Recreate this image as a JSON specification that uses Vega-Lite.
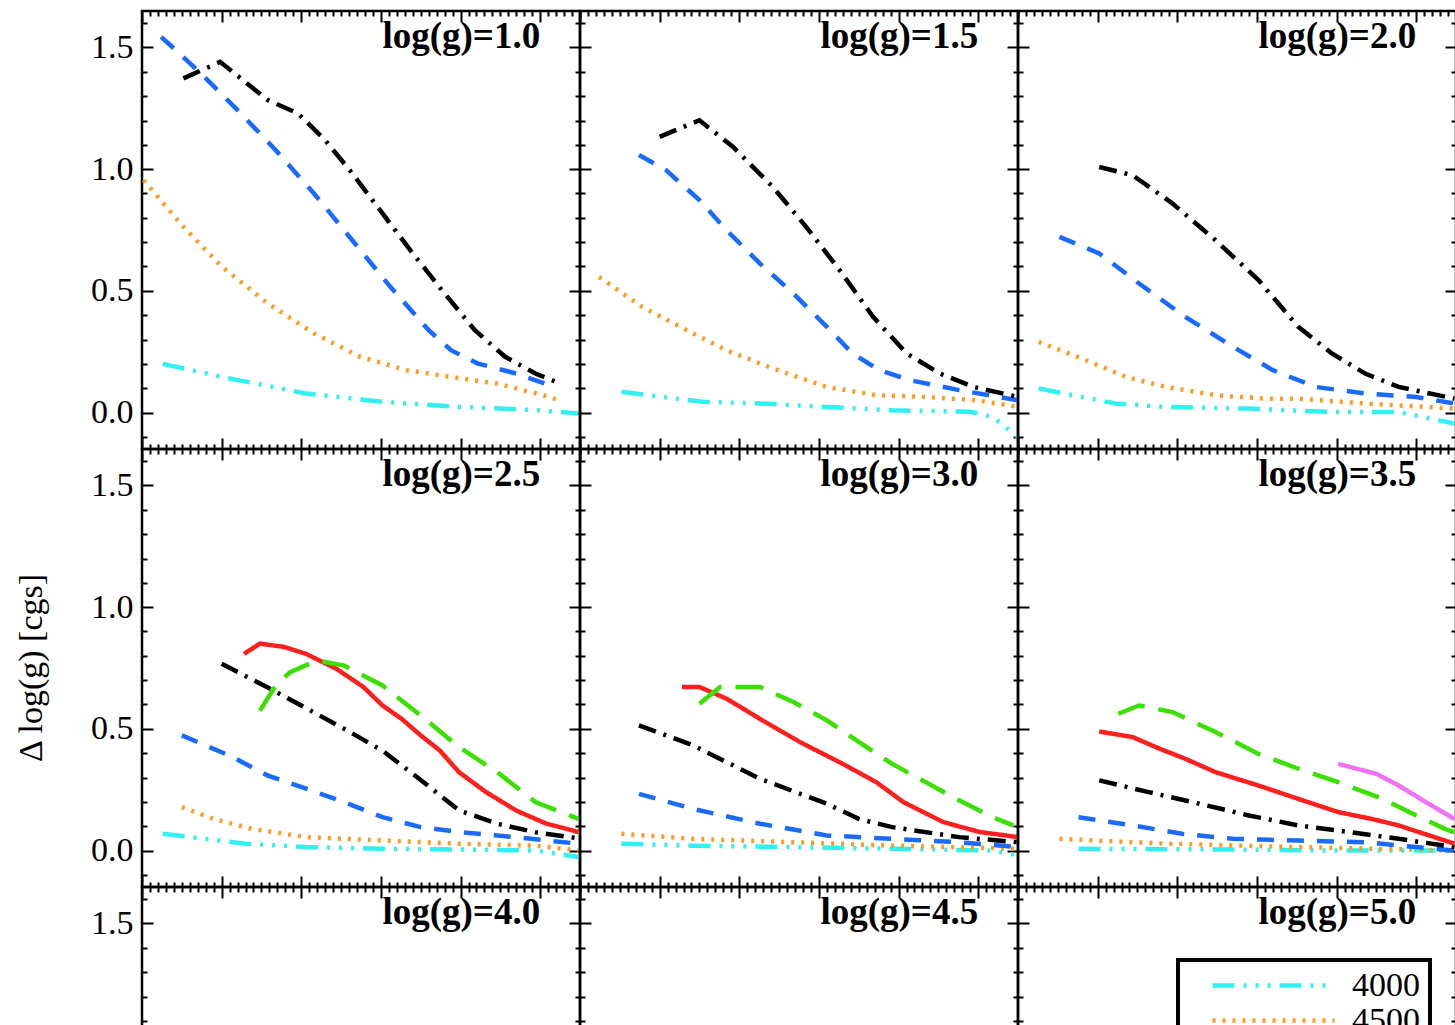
{
  "$schema": "https://vega.github.io/schema/vega-lite/v6.json",
  "background": "white",
  "padding": {"left": 15, "top": 4, "right": 0, "bottom": 0},
  "title": {"text": "Δ log(g) [cgs]", "orient": "left", "anchor": "middle", "font": "Liberation Serif", "fontSize": 34, "fontWeight": "normal", "color": "black", "offset": 40},
  "config": {
    "view": {"stroke": "black", "strokeWidth": 2.5},
    "axis": {"domain": false, "grid": false, "tickColor": "black", "tickWidth": 2, "labelFont": "Liberation Serif", "labelFontSize": 34, "labelColor": "black"},
    "legend": {"symbolType": "stroke", "symbolSize": 14884, "symbolStrokeWidth": 4.5, "labelFont": "Liberation Serif", "labelFontSize": 34, "labelColor": "black", "clipHeight": 31, "rowPadding": 0, "padding": 10, "symbolOffset": 22, "labelOffset": 15, "strokeColor": "black", "strokeWidth": 4, "fillColor": "white"},
    "line": {"strokeWidth": 4.5, "strokeCap": "butt", "clip": true},
    "text": {"align": "right", "baseline": "alphabetic", "font": "Liberation Serif", "fontSize": 37, "fontWeight": "bold", "color": "black"}
  },
  "datasets": {
    "panels": [
      {"g": 1.0, "label": "log(g)=1.0"}, {"g": 1.5, "label": "log(g)=1.5"}, {"g": 2.0, "label": "log(g)=2.0"},
      {"g": 2.5, "label": "log(g)=2.5"}, {"g": 3.0, "label": "log(g)=3.0"}, {"g": 3.5, "label": "log(g)=3.5"},
      {"g": 4.0, "label": "log(g)=4.0"}, {"g": 4.5, "label": "log(g)=4.5"}, {"g": 5.0, "label": "log(g)=5.0"}
    ],
    "curves": [
      {"g":1.0,"t":"4000","x":-2.37,"y":0.20},{"g":1.0,"t":"4000","x":-1.95,"y":0.14},{"g":1.0,"t":"4000","x":-1.47,"y":0.078},{"g":1.0,"t":"4000","x":-0.99,"y":0.044},{"g":1.0,"t":"4000","x":-0.51,"y":0.023},{"g":1.0,"t":"4000","x":-0.03,"y":0.01},{"g":1.0,"t":"4000","x":0.24,"y":-0.004},
      {"g":1.0,"t":"4500","x":-2.49,"y":0.955},{"g":1.0,"t":"4500","x":-2.24,"y":0.763},{"g":1.0,"t":"4500","x":-2.0,"y":0.60},{"g":1.0,"t":"4500","x":-1.71,"y":0.448},{"g":1.0,"t":"4500","x":-1.42,"y":0.325},{"g":1.0,"t":"4500","x":-1.13,"y":0.229},{"g":1.0,"t":"4500","x":-0.84,"y":0.174},{"g":1.0,"t":"4500","x":-0.56,"y":0.146},{"g":1.0,"t":"4500","x":-0.27,"y":0.119},{"g":1.0,"t":"4500","x":0.02,"y":0.071},{"g":1.0,"t":"4500","x":0.12,"y":0.05},
      {"g":1.0,"t":"5000","x":-2.38,"y":1.544},{"g":1.0,"t":"5000","x":-2.14,"y":1.40},{"g":1.0,"t":"5000","x":-1.90,"y":1.243},{"g":1.0,"t":"5000","x":-1.66,"y":1.078},{"g":1.0,"t":"5000","x":-1.42,"y":0.90},{"g":1.0,"t":"5000","x":-1.18,"y":0.708},{"g":1.0,"t":"5000","x":-0.94,"y":0.516},{"g":1.0,"t":"5000","x":-0.70,"y":0.338},{"g":1.0,"t":"5000","x":-0.56,"y":0.256},{"g":1.0,"t":"5000","x":-0.39,"y":0.201},{"g":1.0,"t":"5000","x":-0.15,"y":0.16},{"g":1.0,"t":"5000","x":0.09,"y":0.105},
      {"g":1.0,"t":"5500","x":-2.24,"y":1.373},{"g":1.0,"t":"5500","x":-2.01,"y":1.441},{"g":1.0,"t":"5500","x":-1.71,"y":1.284},{"g":1.0,"t":"5500","x":-1.52,"y":1.229},{"g":1.0,"t":"5500","x":-1.35,"y":1.119},{"g":1.0,"t":"5500","x":-1.18,"y":0.983},{"g":1.0,"t":"5500","x":-0.99,"y":0.818},{"g":1.0,"t":"5500","x":-0.80,"y":0.654},{"g":1.0,"t":"5500","x":-0.60,"y":0.489},{"g":1.0,"t":"5500","x":-0.41,"y":0.338},{"g":1.0,"t":"5500","x":-0.22,"y":0.229},{"g":1.0,"t":"5500","x":-0.03,"y":0.16},{"g":1.0,"t":"5500","x":0.10,"y":0.126},

      {"g":1.5,"t":"4000","x":-2.24,"y":0.085},{"g":1.5,"t":"4000","x":-1.73,"y":0.044},{"g":1.5,"t":"4000","x":-1.37,"y":0.037},{"g":1.5,"t":"4000","x":-0.95,"y":0.023},{"g":1.5,"t":"4000","x":-0.54,"y":0.009},{"g":1.5,"t":"4000","x":-0.05,"y":0.003},{"g":1.5,"t":"4000","x":0.09,"y":-0.018},{"g":1.5,"t":"4000","x":0.25,"y":-0.10},
      {"g":1.5,"t":"4500","x":-2.38,"y":0.557},{"g":1.5,"t":"4500","x":-2.11,"y":0.434},{"g":1.5,"t":"4500","x":-1.83,"y":0.338},{"g":1.5,"t":"4500","x":-1.58,"y":0.256},{"g":1.5,"t":"4500","x":-1.29,"y":0.181},{"g":1.5,"t":"4500","x":-0.95,"y":0.105},{"g":1.5,"t":"4500","x":-0.64,"y":0.071},{"g":1.5,"t":"4500","x":-0.33,"y":0.064},{"g":1.5,"t":"4500","x":-0.01,"y":0.05},{"g":1.5,"t":"4500","x":0.25,"y":0.023},
      {"g":1.5,"t":"5000","x":-2.13,"y":1.058},{"g":1.5,"t":"5000","x":-1.96,"y":0.996},{"g":1.5,"t":"5000","x":-1.75,"y":0.873},{"g":1.5,"t":"5000","x":-1.58,"y":0.749},{"g":1.5,"t":"5000","x":-1.37,"y":0.612},{"g":1.5,"t":"5000","x":-1.16,"y":0.489},{"g":1.5,"t":"5000","x":-0.95,"y":0.352},{"g":1.5,"t":"5000","x":-0.79,"y":0.243},{"g":1.5,"t":"5000","x":-0.62,"y":0.174},{"g":1.5,"t":"5000","x":-0.43,"y":0.133},{"g":1.5,"t":"5000","x":-0.12,"y":0.092},{"g":1.5,"t":"5000","x":0.25,"y":0.05},
      {"g":1.5,"t":"5500","x":-2.0,"y":1.133},{"g":1.5,"t":"5500","x":-1.75,"y":1.201},{"g":1.5,"t":"5500","x":-1.54,"y":1.092},{"g":1.5,"t":"5500","x":-1.29,"y":0.927},{"g":1.5,"t":"5500","x":-1.08,"y":0.763},{"g":1.5,"t":"5500","x":-0.87,"y":0.585},{"g":1.5,"t":"5500","x":-0.66,"y":0.393},{"g":1.5,"t":"5500","x":-0.45,"y":0.243},{"g":1.5,"t":"5500","x":-0.24,"y":0.16},{"g":1.5,"t":"5500","x":-0.03,"y":0.105},{"g":1.5,"t":"5500","x":0.25,"y":0.064},

      {"g":2.0,"t":"4000","x":-2.37,"y":0.099},{"g":2.0,"t":"4000","x":-2.10,"y":0.064},{"g":2.0,"t":"4000","x":-1.89,"y":0.037},{"g":2.0,"t":"4000","x":-1.57,"y":0.023},{"g":2.0,"t":"4000","x":-1.05,"y":0.016},{"g":2.0,"t":"4000","x":-0.53,"y":0.002},{"g":2.0,"t":"4000","x":-0.11,"y":0.002},{"g":2.0,"t":"4000","x":0.24,"y":-0.045},
      {"g":2.0,"t":"4500","x":-2.37,"y":0.29},{"g":2.0,"t":"4500","x":-2.10,"y":0.222},{"g":2.0,"t":"4500","x":-1.82,"y":0.146},{"g":2.0,"t":"4500","x":-1.57,"y":0.105},{"g":2.0,"t":"4500","x":-1.26,"y":0.071},{"g":2.0,"t":"4500","x":-0.95,"y":0.057},{"g":2.0,"t":"4500","x":-0.74,"y":0.057},{"g":2.0,"t":"4500","x":-0.32,"y":0.037},{"g":2.0,"t":"4500","x":0.24,"y":0.016},
      {"g":2.0,"t":"5000","x":-2.24,"y":0.722},{"g":2.0,"t":"5000","x":-1.99,"y":0.654},{"g":2.0,"t":"5000","x":-1.74,"y":0.53},{"g":2.0,"t":"5000","x":-1.45,"y":0.393},{"g":2.0,"t":"5000","x":-1.15,"y":0.27},{"g":2.0,"t":"5000","x":-0.90,"y":0.174},{"g":2.0,"t":"5000","x":-0.63,"y":0.105},{"g":2.0,"t":"5000","x":-0.32,"y":0.078},{"g":2.0,"t":"5000","x":0.0,"y":0.064},{"g":2.0,"t":"5000","x":0.24,"y":0.037},
      {"g":2.0,"t":"5500","x":-1.99,"y":1.009},{"g":2.0,"t":"5500","x":-1.78,"y":0.975},{"g":2.0,"t":"5500","x":-1.53,"y":0.859},{"g":2.0,"t":"5500","x":-1.26,"y":0.708},{"g":2.0,"t":"5500","x":-0.99,"y":0.544},{"g":2.0,"t":"5500","x":-0.74,"y":0.352},{"g":2.0,"t":"5500","x":-0.53,"y":0.243},{"g":2.0,"t":"5500","x":-0.32,"y":0.16},{"g":2.0,"t":"5500","x":-0.11,"y":0.105},{"g":2.0,"t":"5500","x":0.24,"y":0.057},

      {"g":2.5,"t":"4000","x":-2.37,"y":0.069},{"g":2.5,"t":"4000","x":-1.85,"y":0.028},{"g":2.5,"t":"4000","x":-1.47,"y":0.014},{"g":2.5,"t":"4000","x":-0.99,"y":0.007},{"g":2.5,"t":"4000","x":-0.51,"y":0.004},{"g":2.5,"t":"4000","x":-0.03,"y":0.0},{"g":2.5,"t":"4000","x":0.24,"y":-0.027},
      {"g":2.5,"t":"4500","x":-2.25,"y":0.178},{"g":2.5,"t":"4500","x":-2.05,"y":0.13},{"g":2.5,"t":"4500","x":-1.81,"y":0.089},{"g":2.5,"t":"4500","x":-1.47,"y":0.055},{"g":2.5,"t":"4500","x":-0.99,"y":0.041},{"g":2.5,"t":"4500","x":-0.51,"y":0.028},{"g":2.5,"t":"4500","x":-0.03,"y":0.02},{"g":2.5,"t":"4500","x":0.24,"y":0.0},
      {"g":2.5,"t":"5000","x":-2.25,"y":0.473},{"g":2.5,"t":"5000","x":-1.95,"y":0.39},{"g":2.5,"t":"5000","x":-1.71,"y":0.308},{"g":2.5,"t":"5000","x":-1.47,"y":0.254},{"g":2.5,"t":"5000","x":-1.23,"y":0.199},{"g":2.5,"t":"5000","x":-0.99,"y":0.137},{"g":2.5,"t":"5000","x":-0.75,"y":0.096},{"g":2.5,"t":"5000","x":-0.51,"y":0.076},{"g":2.5,"t":"5000","x":-0.27,"y":0.062},{"g":2.5,"t":"5000","x":0.24,"y":0.028},
      {"g":2.5,"t":"5500","x":-2.0,"y":0.767},{"g":2.5,"t":"5500","x":-1.71,"y":0.67},{"g":2.5,"t":"5500","x":-1.47,"y":0.585},{"g":2.5,"t":"5500","x":-1.23,"y":0.50},{"g":2.5,"t":"5500","x":-0.99,"y":0.41},{"g":2.5,"t":"5500","x":-0.75,"y":0.29},{"g":2.5,"t":"5500","x":-0.51,"y":0.165},{"g":2.5,"t":"5500","x":-0.27,"y":0.11},{"g":2.5,"t":"5500","x":-0.03,"y":0.075},{"g":2.5,"t":"5500","x":0.24,"y":0.05},
      {"g":2.5,"t":"6000","x":-1.86,"y":0.808},{"g":2.5,"t":"6000","x":-1.76,"y":0.85},{"g":2.5,"t":"6000","x":-1.61,"y":0.837},{"g":2.5,"t":"6000","x":-1.47,"y":0.808},{"g":2.5,"t":"6000","x":-1.28,"y":0.747},{"g":2.5,"t":"6000","x":-1.11,"y":0.672},{"g":2.5,"t":"6000","x":-0.99,"y":0.596},{"g":2.5,"t":"6000","x":-0.87,"y":0.541},{"g":2.5,"t":"6000","x":-0.75,"y":0.473},{"g":2.5,"t":"6000","x":-0.63,"y":0.411},{"g":2.5,"t":"6000","x":-0.51,"y":0.322},{"g":2.5,"t":"6000","x":-0.34,"y":0.24},{"g":2.5,"t":"6000","x":-0.15,"y":0.164},{"g":2.5,"t":"6000","x":0.04,"y":0.11},{"g":2.5,"t":"6000","x":0.24,"y":0.076},
      {"g":2.5,"t":"6500","x":-1.76,"y":0.575},{"g":2.5,"t":"6500","x":-1.66,"y":0.678},{"g":2.5,"t":"6500","x":-1.57,"y":0.733},{"g":2.5,"t":"6500","x":-1.40,"y":0.781},{"g":2.5,"t":"6500","x":-1.23,"y":0.76},{"g":2.5,"t":"6500","x":-0.99,"y":0.678},{"g":2.5,"t":"6500","x":-0.75,"y":0.555},{"g":2.5,"t":"6500","x":-0.51,"y":0.425},{"g":2.5,"t":"6500","x":-0.27,"y":0.322},{"g":2.5,"t":"6500","x":-0.03,"y":0.199},{"g":2.5,"t":"6500","x":0.24,"y":0.13},

      {"g":3.0,"t":"4000","x":-2.24,"y":0.028},{"g":3.0,"t":"4000","x":-1.79,"y":0.02},{"g":3.0,"t":"4000","x":-1.16,"y":0.014},{"g":3.0,"t":"4000","x":-0.54,"y":0.007},{"g":3.0,"t":"4000","x":0.09,"y":0.0},{"g":3.0,"t":"4000","x":0.25,"y":-0.02},
      {"g":3.0,"t":"4500","x":-2.24,"y":0.069},{"g":3.0,"t":"4500","x":-1.79,"y":0.048},{"g":3.0,"t":"4500","x":-1.16,"y":0.034},{"g":3.0,"t":"4500","x":-0.54,"y":0.02},{"g":3.0,"t":"4500","x":0.25,"y":0.007},
      {"g":3.0,"t":"5000","x":-2.13,"y":0.233},{"g":3.0,"t":"5000","x":-1.79,"y":0.171},{"g":3.0,"t":"5000","x":-1.37,"y":0.11},{"g":3.0,"t":"5000","x":-0.95,"y":0.062},{"g":3.0,"t":"5000","x":-0.54,"y":0.048},{"g":3.0,"t":"5000","x":-0.12,"y":0.034},{"g":3.0,"t":"5000","x":0.25,"y":0.014},
      {"g":3.0,"t":"5500","x":-2.13,"y":0.514},{"g":3.0,"t":"5500","x":-1.79,"y":0.432},{"g":3.0,"t":"5500","x":-1.37,"y":0.295},{"g":3.0,"t":"5500","x":-0.95,"y":0.192},{"g":3.0,"t":"5500","x":-0.75,"y":0.13},{"g":3.0,"t":"5500","x":-0.54,"y":0.096},{"g":3.0,"t":"5500","x":-0.12,"y":0.055},{"g":3.0,"t":"5500","x":0.25,"y":0.034},
      {"g":3.0,"t":"6000","x":-1.86,"y":0.672},{"g":3.0,"t":"6000","x":-1.75,"y":0.672},{"g":3.0,"t":"6000","x":-1.58,"y":0.624},{"g":3.0,"t":"6000","x":-1.37,"y":0.541},{"g":3.0,"t":"6000","x":-1.12,"y":0.446},{"g":3.0,"t":"6000","x":-0.85,"y":0.356},{"g":3.0,"t":"6000","x":-0.64,"y":0.281},{"g":3.0,"t":"6000","x":-0.47,"y":0.199},{"g":3.0,"t":"6000","x":-0.22,"y":0.117},{"g":3.0,"t":"6000","x":0.01,"y":0.076},{"g":3.0,"t":"6000","x":0.25,"y":0.055},
      {"g":3.0,"t":"6500","x":-1.75,"y":0.603},{"g":3.0,"t":"6500","x":-1.62,"y":0.672},{"g":3.0,"t":"6500","x":-1.37,"y":0.672},{"g":3.0,"t":"6500","x":-1.16,"y":0.61},{"g":3.0,"t":"6500","x":-0.95,"y":0.535},{"g":3.0,"t":"6500","x":-0.75,"y":0.446},{"g":3.0,"t":"6500","x":-0.54,"y":0.356},{"g":3.0,"t":"6500","x":-0.33,"y":0.281},{"g":3.0,"t":"6500","x":-0.12,"y":0.206},{"g":3.0,"t":"6500","x":0.09,"y":0.137},{"g":3.0,"t":"6500","x":0.22,"y":0.103},

      {"g":3.5,"t":"4000","x":-2.12,"y":0.007},{"g":3.5,"t":"4000","x":-1.36,"y":0.005},{"g":3.5,"t":"4000","x":-0.53,"y":0.0},{"g":3.5,"t":"4000","x":0.24,"y":0.0},
      {"g":3.5,"t":"4500","x":-2.24,"y":0.048},{"g":3.5,"t":"4500","x":-1.57,"y":0.028},{"g":3.5,"t":"4500","x":-0.74,"y":0.014},{"g":3.5,"t":"4500","x":0.24,"y":0.0},
      {"g":3.5,"t":"5000","x":-2.12,"y":0.137},{"g":3.5,"t":"5000","x":-1.78,"y":0.103},{"g":3.5,"t":"5000","x":-1.47,"y":0.069},{"g":3.5,"t":"5000","x":-1.15,"y":0.048},{"g":3.5,"t":"5000","x":-0.74,"y":0.041},{"g":3.5,"t":"5000","x":-0.32,"y":0.034},{"g":3.5,"t":"5000","x":0.0,"y":0.014},{"g":3.5,"t":"5000","x":0.24,"y":0.0},
      {"g":3.5,"t":"5500","x":-1.99,"y":0.288},{"g":3.5,"t":"5500","x":-1.68,"y":0.24},{"g":3.5,"t":"5500","x":-1.36,"y":0.192},{"g":3.5,"t":"5500","x":-1.05,"y":0.144},{"g":3.5,"t":"5500","x":-0.74,"y":0.103},{"g":3.5,"t":"5500","x":-0.42,"y":0.076},{"g":3.5,"t":"5500","x":-0.11,"y":0.048},{"g":3.5,"t":"5500","x":0.24,"y":0.014},
      {"g":3.5,"t":"6000","x":-1.99,"y":0.489},{"g":3.5,"t":"6000","x":-1.78,"y":0.466},{"g":3.5,"t":"6000","x":-1.61,"y":0.418},{"g":3.5,"t":"6000","x":-1.45,"y":0.377},{"g":3.5,"t":"6000","x":-1.26,"y":0.322},{"g":3.5,"t":"6000","x":-0.99,"y":0.267},{"g":3.5,"t":"6000","x":-0.74,"y":0.212},{"g":3.5,"t":"6000","x":-0.49,"y":0.158},{"g":3.5,"t":"6000","x":-0.28,"y":0.13},{"g":3.5,"t":"6000","x":-0.11,"y":0.103},{"g":3.5,"t":"6000","x":0.24,"y":0.028},
      {"g":3.5,"t":"6500","x":-1.87,"y":0.562},{"g":3.5,"t":"6500","x":-1.74,"y":0.596},{"g":3.5,"t":"6500","x":-1.53,"y":0.569},{"g":3.5,"t":"6500","x":-1.26,"y":0.487},{"g":3.5,"t":"6500","x":-0.99,"y":0.397},{"g":3.5,"t":"6500","x":-0.74,"y":0.336},{"g":3.5,"t":"6500","x":-0.49,"y":0.281},{"g":3.5,"t":"6500","x":-0.21,"y":0.212},{"g":3.5,"t":"6500","x":0.0,"y":0.144},{"g":3.5,"t":"6500","x":0.18,"y":0.089},{"g":3.5,"t":"6500","x":0.24,"y":0.075},
      {"g":3.5,"t":"7000","x":-0.49,"y":0.356},{"g":3.5,"t":"7000","x":-0.25,"y":0.315},{"g":3.5,"t":"7000","x":-0.11,"y":0.267},{"g":3.5,"t":"7000","x":0.06,"y":0.199},{"g":3.5,"t":"7000","x":0.24,"y":0.13}
    ]
  },
  "columns": 3,
  "spacing": 0,
  "bounds": "flush",
  "concat": [
    {"width": 438, "height": 438, "resolve": {"axis": {"x": "independent", "y": "independent"}}, "layer": [
      {"data": {"name": "curves"}, "transform": [{"filter": "datum.g == 1.0"}], "mark": "line",
       "encoding": {
        "x": {"field": "x", "type": "quantitative", "scale": {"domain": [-2.5, 0.25], "nice": false, "zero": false}, "axis": {"orient": "bottom", "title": null, "labels": false, "values": [-2.5,-2.45,-2.4,-2.35,-2.3,-2.25,-2.2,-2.15,-2.1,-2.05,-2,-1.95,-1.9,-1.85,-1.8,-1.75,-1.7,-1.65,-1.6,-1.55,-1.5,-1.45,-1.4,-1.35,-1.3,-1.25,-1.2,-1.15,-1.1,-1.05,-1,-0.95,-0.9,-0.85,-0.8,-0.75,-0.7,-0.65,-0.6,-0.55,-0.5,-0.45,-0.4,-0.35,-0.3,-0.25,-0.2,-0.15,-0.1,-0.05,0,0.05,0.1,0.15,0.2,0.25], "tickSize": {"condition": {"test": "abs(datum.value*2-round(datum.value*2))<1e-6", "value": -11}, "value": -5}}},
        "y": {"field": "y", "type": "quantitative", "scale": {"domain": [-0.15, 1.65], "nice": false, "zero": false}, "axis": {"orient": "left", "title": null, "values": [-0.1,0,0.1,0.2,0.3,0.4,0.5,0.6,0.7,0.8,0.9,1,1.1,1.2,1.3,1.4,1.5,1.6], "labelExpr": "abs(datum.value*2-round(datum.value*2))<1e-6 ? format(datum.value, '.1f') : ''", "labelOverlap": false, "labelBound": false, "labelFlush": false, "labelPadding": 20, "tickSize": {"condition": {"test": "abs(datum.value*2-round(datum.value*2))<1e-6", "value": -11}, "value": -5}}},
        "color": {"field": "t", "type": "nominal", "scale": {"domain": ["4000","4500","5000","5500","6000","6500","7000"], "range": ["#30f0f0","#ff9a22","#1a6aff","#000000","#ff1f1f","#3ae000","#f270f2"]}, "legend": {"title": null, "orient": "none", "legendX": 1036, "legendY": 949}},
        "strokeDash": {"field": "t", "type": "nominal", "scale": {"domain": ["4000","4500","5000","5500","6000","6500","7000"], "range": [[22,9,3,9,3,9,3,9],[3,7],[17,13],[18,8,3,8],[1,0],[28,14],[1,0]]}, "legend": {"title": null, "orient": "none", "legendX": 1036, "legendY": 949}}
       }},
      {"data": {"name": "panels"}, "transform": [{"filter": "datum.g == 1.0"}], "mark": "text",
       "encoding": {
        "x": {"datum": 0, "type": "quantitative", "axis": {"orient": "top", "title": null, "labels": false, "values": [-2.5,-2.45,-2.4,-2.35,-2.3,-2.25,-2.2,-2.15,-2.1,-2.05,-2,-1.95,-1.9,-1.85,-1.8,-1.75,-1.7,-1.65,-1.6,-1.55,-1.5,-1.45,-1.4,-1.35,-1.3,-1.25,-1.2,-1.15,-1.1,-1.05,-1,-0.95,-0.9,-0.85,-0.8,-0.75,-0.7,-0.65,-0.6,-0.55,-0.5,-0.45,-0.4,-0.35,-0.3,-0.25,-0.2,-0.15,-0.1,-0.05,0,0.05,0.1,0.15,0.2,0.25], "tickSize": {"condition": {"test": "abs(datum.value*2-round(datum.value*2))<1e-6", "value": -11}, "value": -5}}},
        "y": {"datum": 1.5, "type": "quantitative", "axis": {"orient": "right", "title": null, "labels": false, "values": [-0.1,0,0.1,0.2,0.3,0.4,0.5,0.6,0.7,0.8,0.9,1,1.1,1.2,1.3,1.4,1.5,1.6], "tickSize": {"condition": {"test": "abs(datum.value*2-round(datum.value*2))<1e-6", "value": -11}, "value": -5}}},
        "text": {"field": "label"}
       }}
    ]},
    {"width": 438, "height": 438, "resolve": {"axis": {"x": "independent", "y": "independent"}}, "layer": [
      {"data": {"name": "curves"}, "transform": [{"filter": "datum.g == 1.5"}], "mark": "line",
       "encoding": {
        "x": {"field": "x", "type": "quantitative", "scale": {"domain": [-2.5, 0.25], "nice": false, "zero": false}, "axis": {"orient": "bottom", "title": null, "labels": false, "values": [-2.5,-2.45,-2.4,-2.35,-2.3,-2.25,-2.2,-2.15,-2.1,-2.05,-2,-1.95,-1.9,-1.85,-1.8,-1.75,-1.7,-1.65,-1.6,-1.55,-1.5,-1.45,-1.4,-1.35,-1.3,-1.25,-1.2,-1.15,-1.1,-1.05,-1,-0.95,-0.9,-0.85,-0.8,-0.75,-0.7,-0.65,-0.6,-0.55,-0.5,-0.45,-0.4,-0.35,-0.3,-0.25,-0.2,-0.15,-0.1,-0.05,0,0.05,0.1,0.15,0.2,0.25], "tickSize": {"condition": {"test": "abs(datum.value*2-round(datum.value*2))<1e-6", "value": -11}, "value": -5}}},
        "y": {"field": "y", "type": "quantitative", "scale": {"domain": [-0.15, 1.65], "nice": false, "zero": false}, "axis": {"orient": "left", "title": null, "labels": false, "values": [-0.1,0,0.1,0.2,0.3,0.4,0.5,0.6,0.7,0.8,0.9,1,1.1,1.2,1.3,1.4,1.5,1.6], "tickSize": {"condition": {"test": "abs(datum.value*2-round(datum.value*2))<1e-6", "value": -11}, "value": -5}}},
        "color": {"field": "t", "type": "nominal", "legend": null},
        "strokeDash": {"field": "t", "type": "nominal", "legend": null}
       }},
      {"data": {"name": "panels"}, "transform": [{"filter": "datum.g == 1.5"}], "mark": "text",
       "encoding": {
        "x": {"datum": 0, "type": "quantitative", "axis": {"orient": "top", "title": null, "labels": false, "values": [-2.5,-2.45,-2.4,-2.35,-2.3,-2.25,-2.2,-2.15,-2.1,-2.05,-2,-1.95,-1.9,-1.85,-1.8,-1.75,-1.7,-1.65,-1.6,-1.55,-1.5,-1.45,-1.4,-1.35,-1.3,-1.25,-1.2,-1.15,-1.1,-1.05,-1,-0.95,-0.9,-0.85,-0.8,-0.75,-0.7,-0.65,-0.6,-0.55,-0.5,-0.45,-0.4,-0.35,-0.3,-0.25,-0.2,-0.15,-0.1,-0.05,0,0.05,0.1,0.15,0.2,0.25], "tickSize": {"condition": {"test": "abs(datum.value*2-round(datum.value*2))<1e-6", "value": -11}, "value": -5}}},
        "y": {"datum": 1.5, "type": "quantitative", "axis": {"orient": "right", "title": null, "labels": false, "values": [-0.1,0,0.1,0.2,0.3,0.4,0.5,0.6,0.7,0.8,0.9,1,1.1,1.2,1.3,1.4,1.5,1.6], "tickSize": {"condition": {"test": "abs(datum.value*2-round(datum.value*2))<1e-6", "value": -11}, "value": -5}}},
        "text": {"field": "label"}
       }}
    ]},
    {"width": 438, "height": 438, "resolve": {"axis": {"x": "independent", "y": "independent"}}, "layer": [
      {"data": {"name": "curves"}, "transform": [{"filter": "datum.g == 2.0"}], "mark": "line",
       "encoding": {
        "x": {"field": "x", "type": "quantitative", "scale": {"domain": [-2.5, 0.25], "nice": false, "zero": false}, "axis": {"orient": "bottom", "title": null, "labels": false, "values": [-2.5,-2.45,-2.4,-2.35,-2.3,-2.25,-2.2,-2.15,-2.1,-2.05,-2,-1.95,-1.9,-1.85,-1.8,-1.75,-1.7,-1.65,-1.6,-1.55,-1.5,-1.45,-1.4,-1.35,-1.3,-1.25,-1.2,-1.15,-1.1,-1.05,-1,-0.95,-0.9,-0.85,-0.8,-0.75,-0.7,-0.65,-0.6,-0.55,-0.5,-0.45,-0.4,-0.35,-0.3,-0.25,-0.2,-0.15,-0.1,-0.05,0,0.05,0.1,0.15,0.2,0.25], "tickSize": {"condition": {"test": "abs(datum.value*2-round(datum.value*2))<1e-6", "value": -11}, "value": -5}}},
        "y": {"field": "y", "type": "quantitative", "scale": {"domain": [-0.15, 1.65], "nice": false, "zero": false}, "axis": {"orient": "left", "title": null, "labels": false, "values": [-0.1,0,0.1,0.2,0.3,0.4,0.5,0.6,0.7,0.8,0.9,1,1.1,1.2,1.3,1.4,1.5,1.6], "tickSize": {"condition": {"test": "abs(datum.value*2-round(datum.value*2))<1e-6", "value": -11}, "value": -5}}},
        "color": {"field": "t", "type": "nominal", "legend": null},
        "strokeDash": {"field": "t", "type": "nominal", "legend": null}
       }},
      {"data": {"name": "panels"}, "transform": [{"filter": "datum.g == 2.0"}], "mark": "text",
       "encoding": {
        "x": {"datum": 0, "type": "quantitative", "axis": {"orient": "top", "title": null, "labels": false, "values": [-2.5,-2.45,-2.4,-2.35,-2.3,-2.25,-2.2,-2.15,-2.1,-2.05,-2,-1.95,-1.9,-1.85,-1.8,-1.75,-1.7,-1.65,-1.6,-1.55,-1.5,-1.45,-1.4,-1.35,-1.3,-1.25,-1.2,-1.15,-1.1,-1.05,-1,-0.95,-0.9,-0.85,-0.8,-0.75,-0.7,-0.65,-0.6,-0.55,-0.5,-0.45,-0.4,-0.35,-0.3,-0.25,-0.2,-0.15,-0.1,-0.05,0,0.05,0.1,0.15,0.2,0.25], "tickSize": {"condition": {"test": "abs(datum.value*2-round(datum.value*2))<1e-6", "value": -11}, "value": -5}}},
        "y": {"datum": 1.5, "type": "quantitative", "axis": {"orient": "right", "title": null, "labels": false, "values": [-0.1,0,0.1,0.2,0.3,0.4,0.5,0.6,0.7,0.8,0.9,1,1.1,1.2,1.3,1.4,1.5,1.6], "tickSize": {"condition": {"test": "abs(datum.value*2-round(datum.value*2))<1e-6", "value": -11}, "value": -5}}},
        "text": {"field": "label"}
       }}
    ]},
    {"width": 438, "height": 438, "resolve": {"axis": {"x": "independent", "y": "independent"}}, "layer": [
      {"data": {"name": "curves"}, "transform": [{"filter": "datum.g == 2.5"}], "mark": "line",
       "encoding": {
        "x": {"field": "x", "type": "quantitative", "scale": {"domain": [-2.5, 0.25], "nice": false, "zero": false}, "axis": {"orient": "bottom", "title": null, "labels": false, "values": [-2.5,-2.45,-2.4,-2.35,-2.3,-2.25,-2.2,-2.15,-2.1,-2.05,-2,-1.95,-1.9,-1.85,-1.8,-1.75,-1.7,-1.65,-1.6,-1.55,-1.5,-1.45,-1.4,-1.35,-1.3,-1.25,-1.2,-1.15,-1.1,-1.05,-1,-0.95,-0.9,-0.85,-0.8,-0.75,-0.7,-0.65,-0.6,-0.55,-0.5,-0.45,-0.4,-0.35,-0.3,-0.25,-0.2,-0.15,-0.1,-0.05,0,0.05,0.1,0.15,0.2,0.25], "tickSize": {"condition": {"test": "abs(datum.value*2-round(datum.value*2))<1e-6", "value": -11}, "value": -5}}},
        "y": {"field": "y", "type": "quantitative", "scale": {"domain": [-0.15, 1.65], "nice": false, "zero": false}, "axis": {"orient": "left", "title": null, "values": [-0.1,0,0.1,0.2,0.3,0.4,0.5,0.6,0.7,0.8,0.9,1,1.1,1.2,1.3,1.4,1.5,1.6], "labelExpr": "abs(datum.value*2-round(datum.value*2))<1e-6 ? format(datum.value, '.1f') : ''", "labelOverlap": false, "labelBound": false, "labelFlush": false, "labelPadding": 20, "tickSize": {"condition": {"test": "abs(datum.value*2-round(datum.value*2))<1e-6", "value": -11}, "value": -5}}},
        "color": {"field": "t", "type": "nominal", "legend": null},
        "strokeDash": {"field": "t", "type": "nominal", "legend": null}
       }},
      {"data": {"name": "panels"}, "transform": [{"filter": "datum.g == 2.5"}], "mark": "text",
       "encoding": {
        "x": {"datum": 0, "type": "quantitative", "axis": {"orient": "top", "title": null, "labels": false, "values": [-2.5,-2.45,-2.4,-2.35,-2.3,-2.25,-2.2,-2.15,-2.1,-2.05,-2,-1.95,-1.9,-1.85,-1.8,-1.75,-1.7,-1.65,-1.6,-1.55,-1.5,-1.45,-1.4,-1.35,-1.3,-1.25,-1.2,-1.15,-1.1,-1.05,-1,-0.95,-0.9,-0.85,-0.8,-0.75,-0.7,-0.65,-0.6,-0.55,-0.5,-0.45,-0.4,-0.35,-0.3,-0.25,-0.2,-0.15,-0.1,-0.05,0,0.05,0.1,0.15,0.2,0.25], "tickSize": {"condition": {"test": "abs(datum.value*2-round(datum.value*2))<1e-6", "value": -11}, "value": -5}}},
        "y": {"datum": 1.5, "type": "quantitative", "axis": {"orient": "right", "title": null, "labels": false, "values": [-0.1,0,0.1,0.2,0.3,0.4,0.5,0.6,0.7,0.8,0.9,1,1.1,1.2,1.3,1.4,1.5,1.6], "tickSize": {"condition": {"test": "abs(datum.value*2-round(datum.value*2))<1e-6", "value": -11}, "value": -5}}},
        "text": {"field": "label"}
       }}
    ]},
    {"width": 438, "height": 438, "resolve": {"axis": {"x": "independent", "y": "independent"}}, "layer": [
      {"data": {"name": "curves"}, "transform": [{"filter": "datum.g == 3.0"}], "mark": "line",
       "encoding": {
        "x": {"field": "x", "type": "quantitative", "scale": {"domain": [-2.5, 0.25], "nice": false, "zero": false}, "axis": {"orient": "bottom", "title": null, "labels": false, "values": [-2.5,-2.45,-2.4,-2.35,-2.3,-2.25,-2.2,-2.15,-2.1,-2.05,-2,-1.95,-1.9,-1.85,-1.8,-1.75,-1.7,-1.65,-1.6,-1.55,-1.5,-1.45,-1.4,-1.35,-1.3,-1.25,-1.2,-1.15,-1.1,-1.05,-1,-0.95,-0.9,-0.85,-0.8,-0.75,-0.7,-0.65,-0.6,-0.55,-0.5,-0.45,-0.4,-0.35,-0.3,-0.25,-0.2,-0.15,-0.1,-0.05,0,0.05,0.1,0.15,0.2,0.25], "tickSize": {"condition": {"test": "abs(datum.value*2-round(datum.value*2))<1e-6", "value": -11}, "value": -5}}},
        "y": {"field": "y", "type": "quantitative", "scale": {"domain": [-0.15, 1.65], "nice": false, "zero": false}, "axis": {"orient": "left", "title": null, "labels": false, "values": [-0.1,0,0.1,0.2,0.3,0.4,0.5,0.6,0.7,0.8,0.9,1,1.1,1.2,1.3,1.4,1.5,1.6], "tickSize": {"condition": {"test": "abs(datum.value*2-round(datum.value*2))<1e-6", "value": -11}, "value": -5}}},
        "color": {"field": "t", "type": "nominal", "legend": null},
        "strokeDash": {"field": "t", "type": "nominal", "legend": null}
       }},
      {"data": {"name": "panels"}, "transform": [{"filter": "datum.g == 3.0"}], "mark": "text",
       "encoding": {
        "x": {"datum": 0, "type": "quantitative", "axis": {"orient": "top", "title": null, "labels": false, "values": [-2.5,-2.45,-2.4,-2.35,-2.3,-2.25,-2.2,-2.15,-2.1,-2.05,-2,-1.95,-1.9,-1.85,-1.8,-1.75,-1.7,-1.65,-1.6,-1.55,-1.5,-1.45,-1.4,-1.35,-1.3,-1.25,-1.2,-1.15,-1.1,-1.05,-1,-0.95,-0.9,-0.85,-0.8,-0.75,-0.7,-0.65,-0.6,-0.55,-0.5,-0.45,-0.4,-0.35,-0.3,-0.25,-0.2,-0.15,-0.1,-0.05,0,0.05,0.1,0.15,0.2,0.25], "tickSize": {"condition": {"test": "abs(datum.value*2-round(datum.value*2))<1e-6", "value": -11}, "value": -5}}},
        "y": {"datum": 1.5, "type": "quantitative", "axis": {"orient": "right", "title": null, "labels": false, "values": [-0.1,0,0.1,0.2,0.3,0.4,0.5,0.6,0.7,0.8,0.9,1,1.1,1.2,1.3,1.4,1.5,1.6], "tickSize": {"condition": {"test": "abs(datum.value*2-round(datum.value*2))<1e-6", "value": -11}, "value": -5}}},
        "text": {"field": "label"}
       }}
    ]},
    {"width": 438, "height": 438, "resolve": {"axis": {"x": "independent", "y": "independent"}}, "layer": [
      {"data": {"name": "curves"}, "transform": [{"filter": "datum.g == 3.5"}], "mark": "line",
       "encoding": {
        "x": {"field": "x", "type": "quantitative", "scale": {"domain": [-2.5, 0.25], "nice": false, "zero": false}, "axis": {"orient": "bottom", "title": null, "labels": false, "values": [-2.5,-2.45,-2.4,-2.35,-2.3,-2.25,-2.2,-2.15,-2.1,-2.05,-2,-1.95,-1.9,-1.85,-1.8,-1.75,-1.7,-1.65,-1.6,-1.55,-1.5,-1.45,-1.4,-1.35,-1.3,-1.25,-1.2,-1.15,-1.1,-1.05,-1,-0.95,-0.9,-0.85,-0.8,-0.75,-0.7,-0.65,-0.6,-0.55,-0.5,-0.45,-0.4,-0.35,-0.3,-0.25,-0.2,-0.15,-0.1,-0.05,0,0.05,0.1,0.15,0.2,0.25], "tickSize": {"condition": {"test": "abs(datum.value*2-round(datum.value*2))<1e-6", "value": -11}, "value": -5}}},
        "y": {"field": "y", "type": "quantitative", "scale": {"domain": [-0.15, 1.65], "nice": false, "zero": false}, "axis": {"orient": "left", "title": null, "labels": false, "values": [-0.1,0,0.1,0.2,0.3,0.4,0.5,0.6,0.7,0.8,0.9,1,1.1,1.2,1.3,1.4,1.5,1.6], "tickSize": {"condition": {"test": "abs(datum.value*2-round(datum.value*2))<1e-6", "value": -11}, "value": -5}}},
        "color": {"field": "t", "type": "nominal", "legend": null},
        "strokeDash": {"field": "t", "type": "nominal", "legend": null}
       }},
      {"data": {"name": "panels"}, "transform": [{"filter": "datum.g == 3.5"}], "mark": "text",
       "encoding": {
        "x": {"datum": 0, "type": "quantitative", "axis": {"orient": "top", "title": null, "labels": false, "values": [-2.5,-2.45,-2.4,-2.35,-2.3,-2.25,-2.2,-2.15,-2.1,-2.05,-2,-1.95,-1.9,-1.85,-1.8,-1.75,-1.7,-1.65,-1.6,-1.55,-1.5,-1.45,-1.4,-1.35,-1.3,-1.25,-1.2,-1.15,-1.1,-1.05,-1,-0.95,-0.9,-0.85,-0.8,-0.75,-0.7,-0.65,-0.6,-0.55,-0.5,-0.45,-0.4,-0.35,-0.3,-0.25,-0.2,-0.15,-0.1,-0.05,0,0.05,0.1,0.15,0.2,0.25], "tickSize": {"condition": {"test": "abs(datum.value*2-round(datum.value*2))<1e-6", "value": -11}, "value": -5}}},
        "y": {"datum": 1.5, "type": "quantitative", "axis": {"orient": "right", "title": null, "labels": false, "values": [-0.1,0,0.1,0.2,0.3,0.4,0.5,0.6,0.7,0.8,0.9,1,1.1,1.2,1.3,1.4,1.5,1.6], "tickSize": {"condition": {"test": "abs(datum.value*2-round(datum.value*2))<1e-6", "value": -11}, "value": -5}}},
        "text": {"field": "label"}
       }}
    ]},
    {"width": 438, "height": 438, "resolve": {"axis": {"x": "independent", "y": "independent"}}, "layer": [
      {"data": {"name": "curves"}, "transform": [{"filter": "datum.g == 4.0"}], "mark": "line",
       "encoding": {
        "x": {"field": "x", "type": "quantitative", "scale": {"domain": [-2.5, 0.25], "nice": false, "zero": false}, "axis": {"orient": "bottom", "title": null, "labels": false, "values": [-2.5,-2.45,-2.4,-2.35,-2.3,-2.25,-2.2,-2.15,-2.1,-2.05,-2,-1.95,-1.9,-1.85,-1.8,-1.75,-1.7,-1.65,-1.6,-1.55,-1.5,-1.45,-1.4,-1.35,-1.3,-1.25,-1.2,-1.15,-1.1,-1.05,-1,-0.95,-0.9,-0.85,-0.8,-0.75,-0.7,-0.65,-0.6,-0.55,-0.5,-0.45,-0.4,-0.35,-0.3,-0.25,-0.2,-0.15,-0.1,-0.05,0,0.05,0.1,0.15,0.2,0.25], "tickSize": {"condition": {"test": "abs(datum.value*2-round(datum.value*2))<1e-6", "value": -11}, "value": -5}}},
        "y": {"field": "y", "type": "quantitative", "scale": {"domain": [-0.15, 1.65], "nice": false, "zero": false}, "axis": {"orient": "left", "title": null, "values": [-0.1,0,0.1,0.2,0.3,0.4,0.5,0.6,0.7,0.8,0.9,1,1.1,1.2,1.3,1.4,1.5,1.6], "labelExpr": "abs(datum.value*2-round(datum.value*2))<1e-6 ? format(datum.value, '.1f') : ''", "labelOverlap": false, "labelBound": false, "labelFlush": false, "labelPadding": 20, "tickSize": {"condition": {"test": "abs(datum.value*2-round(datum.value*2))<1e-6", "value": -11}, "value": -5}}},
        "color": {"field": "t", "type": "nominal", "legend": null},
        "strokeDash": {"field": "t", "type": "nominal", "legend": null}
       }},
      {"data": {"name": "panels"}, "transform": [{"filter": "datum.g == 4.0"}], "mark": "text",
       "encoding": {
        "x": {"datum": 0, "type": "quantitative", "axis": {"orient": "top", "title": null, "labels": false, "values": [-2.5,-2.45,-2.4,-2.35,-2.3,-2.25,-2.2,-2.15,-2.1,-2.05,-2,-1.95,-1.9,-1.85,-1.8,-1.75,-1.7,-1.65,-1.6,-1.55,-1.5,-1.45,-1.4,-1.35,-1.3,-1.25,-1.2,-1.15,-1.1,-1.05,-1,-0.95,-0.9,-0.85,-0.8,-0.75,-0.7,-0.65,-0.6,-0.55,-0.5,-0.45,-0.4,-0.35,-0.3,-0.25,-0.2,-0.15,-0.1,-0.05,0,0.05,0.1,0.15,0.2,0.25], "tickSize": {"condition": {"test": "abs(datum.value*2-round(datum.value*2))<1e-6", "value": -11}, "value": -5}}},
        "y": {"datum": 1.5, "type": "quantitative", "axis": {"orient": "right", "title": null, "labels": false, "values": [-0.1,0,0.1,0.2,0.3,0.4,0.5,0.6,0.7,0.8,0.9,1,1.1,1.2,1.3,1.4,1.5,1.6], "tickSize": {"condition": {"test": "abs(datum.value*2-round(datum.value*2))<1e-6", "value": -11}, "value": -5}}},
        "text": {"field": "label"}
       }}
    ]},
    {"width": 438, "height": 438, "resolve": {"axis": {"x": "independent", "y": "independent"}}, "layer": [
      {"data": {"name": "curves"}, "transform": [{"filter": "datum.g == 4.5"}], "mark": "line",
       "encoding": {
        "x": {"field": "x", "type": "quantitative", "scale": {"domain": [-2.5, 0.25], "nice": false, "zero": false}, "axis": {"orient": "bottom", "title": null, "labels": false, "values": [-2.5,-2.45,-2.4,-2.35,-2.3,-2.25,-2.2,-2.15,-2.1,-2.05,-2,-1.95,-1.9,-1.85,-1.8,-1.75,-1.7,-1.65,-1.6,-1.55,-1.5,-1.45,-1.4,-1.35,-1.3,-1.25,-1.2,-1.15,-1.1,-1.05,-1,-0.95,-0.9,-0.85,-0.8,-0.75,-0.7,-0.65,-0.6,-0.55,-0.5,-0.45,-0.4,-0.35,-0.3,-0.25,-0.2,-0.15,-0.1,-0.05,0,0.05,0.1,0.15,0.2,0.25], "tickSize": {"condition": {"test": "abs(datum.value*2-round(datum.value*2))<1e-6", "value": -11}, "value": -5}}},
        "y": {"field": "y", "type": "quantitative", "scale": {"domain": [-0.15, 1.65], "nice": false, "zero": false}, "axis": {"orient": "left", "title": null, "labels": false, "values": [-0.1,0,0.1,0.2,0.3,0.4,0.5,0.6,0.7,0.8,0.9,1,1.1,1.2,1.3,1.4,1.5,1.6], "tickSize": {"condition": {"test": "abs(datum.value*2-round(datum.value*2))<1e-6", "value": -11}, "value": -5}}},
        "color": {"field": "t", "type": "nominal", "legend": null},
        "strokeDash": {"field": "t", "type": "nominal", "legend": null}
       }},
      {"data": {"name": "panels"}, "transform": [{"filter": "datum.g == 4.5"}], "mark": "text",
       "encoding": {
        "x": {"datum": 0, "type": "quantitative", "axis": {"orient": "top", "title": null, "labels": false, "values": [-2.5,-2.45,-2.4,-2.35,-2.3,-2.25,-2.2,-2.15,-2.1,-2.05,-2,-1.95,-1.9,-1.85,-1.8,-1.75,-1.7,-1.65,-1.6,-1.55,-1.5,-1.45,-1.4,-1.35,-1.3,-1.25,-1.2,-1.15,-1.1,-1.05,-1,-0.95,-0.9,-0.85,-0.8,-0.75,-0.7,-0.65,-0.6,-0.55,-0.5,-0.45,-0.4,-0.35,-0.3,-0.25,-0.2,-0.15,-0.1,-0.05,0,0.05,0.1,0.15,0.2,0.25], "tickSize": {"condition": {"test": "abs(datum.value*2-round(datum.value*2))<1e-6", "value": -11}, "value": -5}}},
        "y": {"datum": 1.5, "type": "quantitative", "axis": {"orient": "right", "title": null, "labels": false, "values": [-0.1,0,0.1,0.2,0.3,0.4,0.5,0.6,0.7,0.8,0.9,1,1.1,1.2,1.3,1.4,1.5,1.6], "tickSize": {"condition": {"test": "abs(datum.value*2-round(datum.value*2))<1e-6", "value": -11}, "value": -5}}},
        "text": {"field": "label"}
       }}
    ]},
    {"width": 438, "height": 438, "resolve": {"axis": {"x": "independent", "y": "independent"}}, "layer": [
      {"data": {"name": "curves"}, "transform": [{"filter": "datum.g == 5.0"}], "mark": "line",
       "encoding": {
        "x": {"field": "x", "type": "quantitative", "scale": {"domain": [-2.5, 0.25], "nice": false, "zero": false}, "axis": {"orient": "bottom", "title": null, "labels": false, "values": [-2.5,-2.45,-2.4,-2.35,-2.3,-2.25,-2.2,-2.15,-2.1,-2.05,-2,-1.95,-1.9,-1.85,-1.8,-1.75,-1.7,-1.65,-1.6,-1.55,-1.5,-1.45,-1.4,-1.35,-1.3,-1.25,-1.2,-1.15,-1.1,-1.05,-1,-0.95,-0.9,-0.85,-0.8,-0.75,-0.7,-0.65,-0.6,-0.55,-0.5,-0.45,-0.4,-0.35,-0.3,-0.25,-0.2,-0.15,-0.1,-0.05,0,0.05,0.1,0.15,0.2,0.25], "tickSize": {"condition": {"test": "abs(datum.value*2-round(datum.value*2))<1e-6", "value": -11}, "value": -5}}},
        "y": {"field": "y", "type": "quantitative", "scale": {"domain": [-0.15, 1.65], "nice": false, "zero": false}, "axis": {"orient": "left", "title": null, "labels": false, "values": [-0.1,0,0.1,0.2,0.3,0.4,0.5,0.6,0.7,0.8,0.9,1,1.1,1.2,1.3,1.4,1.5,1.6], "tickSize": {"condition": {"test": "abs(datum.value*2-round(datum.value*2))<1e-6", "value": -11}, "value": -5}}},
        "color": {"field": "t", "type": "nominal", "legend": null},
        "strokeDash": {"field": "t", "type": "nominal", "legend": null}
       }},
      {"data": {"name": "panels"}, "transform": [{"filter": "datum.g == 5.0"}], "mark": "text",
       "encoding": {
        "x": {"datum": 0, "type": "quantitative", "axis": {"orient": "top", "title": null, "labels": false, "values": [-2.5,-2.45,-2.4,-2.35,-2.3,-2.25,-2.2,-2.15,-2.1,-2.05,-2,-1.95,-1.9,-1.85,-1.8,-1.75,-1.7,-1.65,-1.6,-1.55,-1.5,-1.45,-1.4,-1.35,-1.3,-1.25,-1.2,-1.15,-1.1,-1.05,-1,-0.95,-0.9,-0.85,-0.8,-0.75,-0.7,-0.65,-0.6,-0.55,-0.5,-0.45,-0.4,-0.35,-0.3,-0.25,-0.2,-0.15,-0.1,-0.05,0,0.05,0.1,0.15,0.2,0.25], "tickSize": {"condition": {"test": "abs(datum.value*2-round(datum.value*2))<1e-6", "value": -11}, "value": -5}}},
        "y": {"datum": 1.5, "type": "quantitative", "axis": {"orient": "right", "title": null, "labels": false, "values": [-0.1,0,0.1,0.2,0.3,0.4,0.5,0.6,0.7,0.8,0.9,1,1.1,1.2,1.3,1.4,1.5,1.6], "tickSize": {"condition": {"test": "abs(datum.value*2-round(datum.value*2))<1e-6", "value": -11}, "value": -5}}},
        "text": {"field": "label"}
       }}
    ]}
  ]
}
